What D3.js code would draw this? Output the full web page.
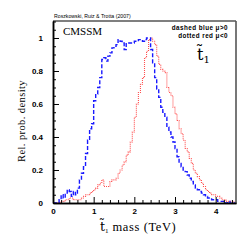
<!DOCTYPE html>
<html>
<head>
<meta charset="utf-8">
<script src="https://cdn.jsdelivr.net/npm/d3@7"></script>
<style>
  body { margin: 0; background: #fff; }
  svg { display: block; }
</style>
</head>
<body>
<svg id="chart"></svg>
<script>
// bin lower edges every 0.05 TeV, 0 .. 4.45
var binWidth = 0.05
var binStarts = d3.range(90).map(i => +(i * binWidth).toFixed(2))

var bluePos = [
  0, 0, 0, 0.02, 0.05, 0.03, 0.06, 0.08, 0.07, 0.04,
  0.07, 0.05, 0.09, 0.14, 0.18, 0.22, 0.30, 0.38, 0.45, 0.48,
  0.62, 0.66, 0.70, 0.76, 0.87, 0.88, 0.86, 0.89, 0.91, 0.94,
  0.95, 0.96, 0.99, 0.98, 0.97, 0.93, 0.97, 0.97, 0.97, 0.97,
  0.98, 0.98, 0.99, 0.99, 0.98, 0.99, 1.00, 1.00, 0.93, 0.85,
  0.76, 0.69, 0.64, 0.58, 0.55, 0.52, 0.46, 0.43, 0.40, 0.37,
  0.33, 0.28, 0.24, 0.22, 0.20, 0.19, 0.17, 0.15, 0.13, 0.11,
  0.09, 0.08, 0.07, 0.06, 0.05, 0.04, 0.03, 0.03, 0.02, 0.02,
  0.02, 0.01, 0.01, 0.01, 0, 0, 0.01, 0, 0, 0
]

var redNeg = [
  0, 0, 0, 0.005, 0.01, 0.01, 0.02, 0.02, 0.03, 0.03,
  0.02, 0.02, 0.02, 0.02, 0.03, 0.04, 0.05, 0.05, 0.06, 0.07,
  0.08, 0.09, 0.11, 0.12, 0.14, 0.10, 0.10, 0.10, 0.13, 0.14,
  0.14, 0.15, 0.18, 0.20, 0.23, 0.25, 0.29, 0.31, 0.37, 0.43,
  0.52, 0.60, 0.67, 0.72, 0.76, 0.88, 0.92, 0.99, 1.00, 0.98,
  0.96, 0.89, 0.84, 0.81, 0.80, 0.79, 0.70, 0.67, 0.65, 0.58,
  0.54, 0.50, 0.45, 0.42, 0.38, 0.33, 0.31, 0.27, 0.24, 0.20,
  0.18, 0.16, 0.14, 0.12, 0.10, 0.08, 0.07, 0.06, 0.05, 0.05,
  0.04, 0.04, 0.03, 0.02, 0.02, 0.01, 0.01, 0.01, 0.01, 0.005
]

var xTicks = [0, 1, 2, 3, 4]
var yTicks = [0, 0.2, 0.4, 0.6, 0.8, 1]

var dimensions = {
    width: 249,
    height: 249,
    margin: { top: 21, bottom: 46, right: 13, left: 53 }
}

var svg = d3.select("#chart")
    .attr("width", dimensions.width)
    .attr("height", dimensions.height)

var xScale = d3.scaleLinear()
    .domain([0, 4.5])
    .range([dimensions.margin.left, dimensions.width - dimensions.margin.right])

var yScale = d3.scaleLinear()
    .domain([0, 1.103])
    .range([dimensions.height - dimensions.margin.bottom, dimensions.margin.top])

var x0 = xScale(0), x1 = xScale(4.5), y0 = yScale(0), y1 = yScale(1.103)

// step path for a histogram
function stepPath(values) {
    var pts = []
    values.forEach(function (v, i) {
        var a = binStarts[i], b = a + binWidth
        pts.push([xScale(a), yScale(v)])
        pts.push([xScale(b), yScale(v)])
    })
    return d3.line()(pts)
}

var plot = svg.append("g")

plot.append("path")
    .attr("d", stepPath(redNeg))
    .attr("fill", "none")
    .attr("stroke", "#ff5050")
    .attr("stroke-width", 1.1)
    .attr("stroke-dasharray", "1,1")

plot.append("path")
    .attr("d", stepPath(bluePos))
    .attr("fill", "none")
    .attr("stroke", "#1a1aff")
    .attr("stroke-width", 1.4)
    .attr("stroke-dasharray", "4,2")

// frame
svg.append("line").attr("x1", x1).attr("x2", x1).attr("y1", y1).attr("y2", y0)
    .attr("stroke", "#777").attr("stroke-width", 2)
svg.append("line").attr("x1", x0).attr("x2", x1).attr("y1", y1).attr("y2", y1)
    .attr("stroke", "#555").attr("stroke-width", 1.5)

// x axis with inward ticks
var xMinor = d3.range(0, 4.41, 0.2).filter(v => Math.abs(v - Math.round(v)) > 1e-6)
var xAxis = svg.append("g").attr("transform", `translate(0,${y0})`)
xAxis.call(d3.axisBottom(xScale).tickValues(xMinor).tickSize(-3).tickFormat("").tickSizeOuter(0))
xAxis.append("g").call(d3.axisBottom(xScale).tickValues(xTicks).tickSize(-6).tickSizeOuter(0)
    .tickFormat(d3.format("d")))
xAxis.selectAll(".domain").attr("stroke", "#000").attr("stroke-width", 1.5)
xAxis.selectAll(".tick line").attr("stroke", "#000").attr("stroke-width", 1)
xAxis.selectAll("text")
    .attr("y", 5)
    .attr("font-family", "Liberation Sans, Arial, sans-serif")
    .attr("font-weight", "bold")
    .attr("font-size", 8)
    .attr("fill", "#000")

// y axis
var yMinor = d3.range(0, 1.101, 0.05).filter(v => Math.abs(v * 5 - Math.round(v * 5)) > 1e-6)
var yAxis = svg.append("g").attr("transform", `translate(${x0},0)`)
yAxis.call(d3.axisLeft(yScale).tickValues(yMinor).tickSize(-3).tickFormat("").tickSizeOuter(0))
yAxis.append("g").call(d3.axisLeft(yScale).tickValues(yTicks).tickSize(-6).tickSizeOuter(0)
    .tickFormat(d => d === 0 || d === 1 ? String(d) : d3.format(".1f")(d)))
yAxis.selectAll(".domain").attr("stroke", "#000").attr("stroke-width", 1.5)
yAxis.selectAll(".tick line").attr("stroke", "#000").attr("stroke-width", 1)
yAxis.selectAll("text")
    .attr("x", -10)
    .attr("font-family", "Liberation Sans, Arial, sans-serif")
    .attr("font-weight", "bold")
    .attr("font-size", 8)
    .attr("fill", "#000")

// texts
svg.append("text")
    .attr("x", 54).attr("y", 18)
    .attr("font-family", "Liberation Sans, Arial, sans-serif")
    .attr("font-size", 5.2)
    .text("Roszkowski, Ruiz & Trotta (2007)")

svg.append("text")
    .attr("x", 63).attr("y", 35)
    .attr("font-family", "Liberation Serif, Times New Roman, serif")
    .attr("font-size", 11)
    .text("CMSSM")

svg.append("text")
    .attr("x", 228).attr("y", 30)
    .attr("text-anchor", "end")
    .attr("font-family", "Liberation Sans, Arial, sans-serif")
    .attr("font-weight", "bold")
    .attr("font-size", 6.3)
    .attr("letter-spacing", 0.45)
    .text("dashed blue \u03bc>0")

svg.append("text")
    .attr("x", 228).attr("y", 38)
    .attr("text-anchor", "end")
    .attr("font-family", "Liberation Sans, Arial, sans-serif")
    .attr("font-weight", "bold")
    .attr("font-size", 6.3)
    .attr("letter-spacing", 0.45)
    .text("dotted red \u03bc<0")

// big stop label (t with combining tilde)
var stop = svg.append("text")
    .attr("x", 197).attr("y", 60)
    .attr("font-family", "DejaVu Serif, Liberation Serif, serif")
    .attr("font-size", 16)
stop.append("tspan").text("t\u0303")
stop.append("tspan").attr("dy", 3).attr("font-size", 10).text("1")

// x label
var xl = svg.append("text")
    .attr("x", 100).attr("y", 231)
    .attr("font-family", "Liberation Serif, Times New Roman, serif")
    .attr("font-size", 12.5)
xl.append("tspan").attr("font-family", "DejaVu Serif, serif").attr("font-size", 12.5).text("t\u0303")
xl.append("tspan").attr("dy", 2).attr("font-size", 7).text("1")
xl.append("tspan").attr("dy", -2).attr("dx", 4).attr("letter-spacing", 0.6).text("mass  (TeV)")

// y label
svg.append("text")
    .attr("transform", "translate(25,121) rotate(-90)")
    .attr("text-anchor", "middle")
    .attr("font-family", "Liberation Serif, Times New Roman, serif")
    .attr("font-size", 10.5)
    .attr("letter-spacing", 0.4)
    .text("Rel.  prob.  density")
</script>
</body>
</html>
